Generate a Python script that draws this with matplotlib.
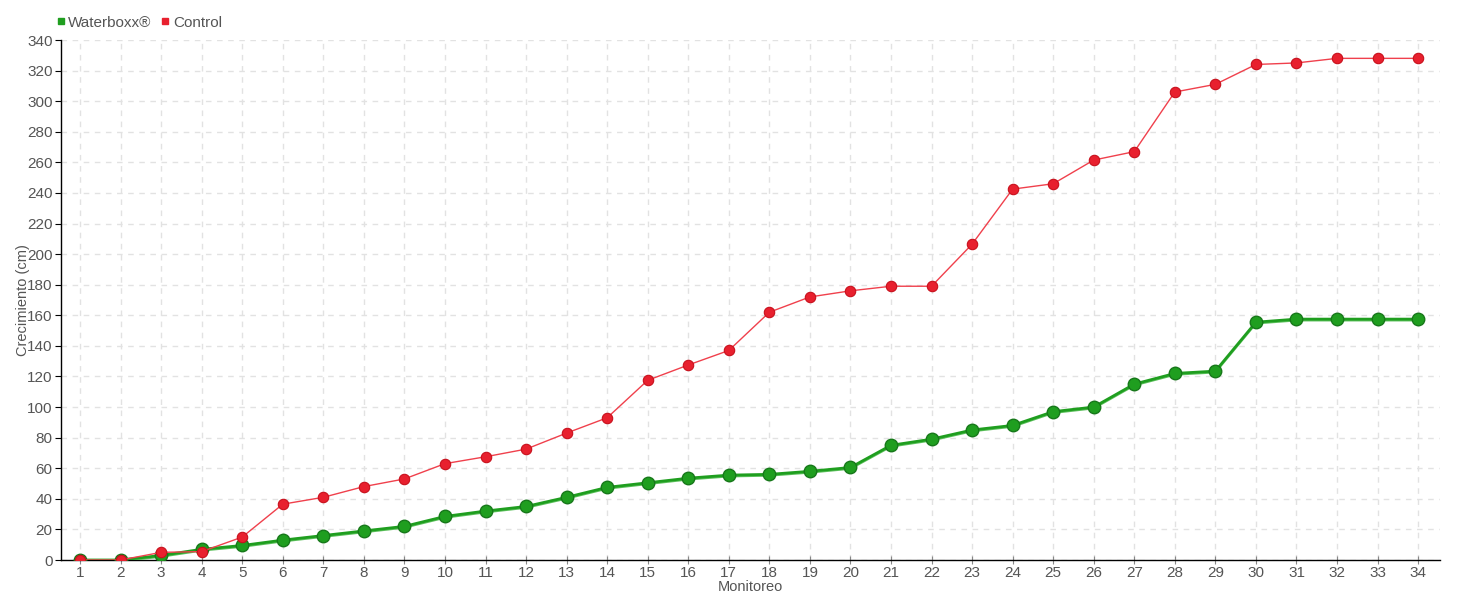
import numpy as np
import matplotlib
matplotlib.use('Agg')
import matplotlib.pyplot as plt
from matplotlib.lines import Line2D

plt.rcParams['font.family'] = ['Liberation Sans', 'DejaVu Sans']

#%% data
monitoreo = list(range(1, 35))
waterboxx = [0, 0, 3, 7, 9.5, 13, 16, 19, 22, 28.5, 32, 35, 41, 47.5, 50.5, 53.5, 55.5, 56, 58, 60.5,
             75, 79, 85, 88, 97, 100, 115, 122, 123.5, 155.5, 157.5, 157.5, 157.5, 157.5]
control = [0, 0, 5, 5.5, 15, 36.5, 41, 48, 53, 63, 67.5, 72.5, 83, 93, 117.5, 127.5, 137, 162, 172, 176,
           179, 179, 206.5, 242.5, 246, 261.5, 267, 306, 311, 324, 325, 328, 328, 328]
y_ticks = list(range(0, 341, 20))

green = '#1f9e1f'
red = '#e8202e'
txt = '#555555'

fig = plt.figure(figsize=(14.6, 6), dpi=100)
ax = fig.add_axes([61/1460, 40/600, (1440-61)/1460, 520/600])

# green series is drawn as a couple of overlapping strokes
ax.plot(monitoreo, np.array(waterboxx) - 0.8, color='#5cc05c', lw=1.6, zorder=3)
ax.plot(monitoreo, waterboxx, color=green, lw=2, marker='o', ms=9,
        markerfacecolor=green, markeredgecolor='#17781a', markeredgewidth=1, zorder=4)
ax.plot(monitoreo, control, color='#f0404c', lw=1, marker='o', ms=7.5,
        markerfacecolor=red, markeredgecolor='#c8101c', markeredgewidth=0.8, zorder=5)

ax.set_xlim(0.53, 34.54)
ax.set_ylim(0, 340)
ax.set_xticks(monitoreo)
ax.set_yticks(y_ticks)
ax.grid(True, linestyle=(0, (4, 4)), color='#e2e2e2', lw=1)
ax.set_axisbelow(True)
for s in ['top', 'right']:
    ax.spines[s].set_visible(False)
for s in ['left', 'bottom']:
    ax.spines[s].set_color('black')
    ax.spines[s].set_linewidth(1)
ax.tick_params(axis='y', direction='out', length=4, color='black', labelcolor=txt, labelsize=11, pad=2)
ax.tick_params(axis='x', direction='inout', length=6, color='#888888', labelcolor=txt, labelsize=11, pad=1)
ax.set_xlabel('Monitoreo', color=txt, fontsize=10.5, labelpad=0)
ax.set_ylabel('Crecimiento (cm)', color=txt, fontsize=10.5, labelpad=-2)

handles = [Line2D([], [], ls='none', marker='s', ms=5, color=green, label='Waterboxx®'),
           Line2D([], [], ls='none', marker='s', ms=5, color=red, label='Control')]
fig.legend(handles=handles, loc='upper left', bbox_to_anchor=(0.029, 0.997), ncol=2, frameon=False,
           fontsize=11, labelcolor=txt, handlelength=0.6, handletextpad=0.2, columnspacing=0.6)

fig.savefig('out.png', dpi=100)
